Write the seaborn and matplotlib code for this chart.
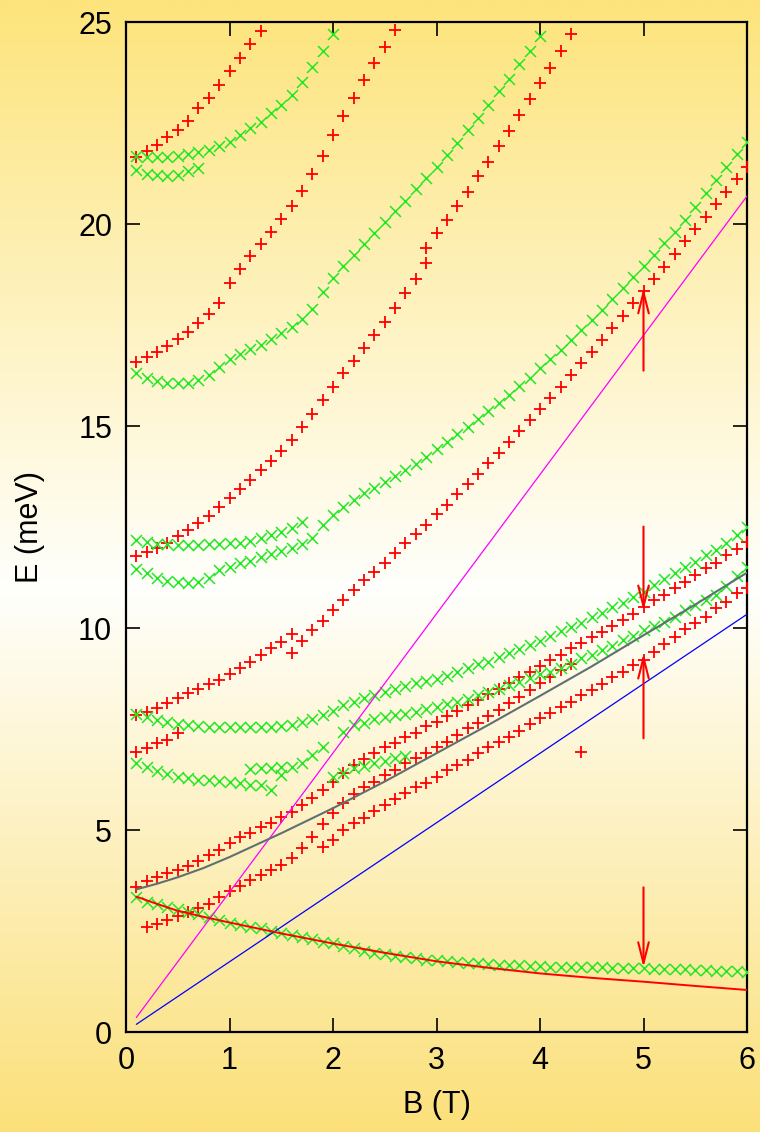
import numpy as np
import pandas as pd
import seaborn as sns
import matplotlib.pyplot as plt
from matplotlib.colors import LinearSegmentedColormap

# ---- data: measured levels, one list per branch, B grid step 0.1 T ----
# red "+" branches (start B, E values in meV)
red_a = (0.1, [21.67, 21.80, 21.96, 22.15, 22.33, 22.56, 22.86, 23.13, 23.44, 23.79,
               24.10, 24.45, 24.78])
red_b = (0.1, [16.59, 16.70, 16.84, 16.98, 17.15, 17.33, 17.54, 17.77, 18.04, 18.55,
               18.88, 19.21, 19.50, 19.79, 20.12, 20.45, 20.82, 21.24, 21.69, 22.20,
               22.67, 23.13, 23.56, 23.98, 24.37, 24.80])
red_c = (0.1, [11.78, 11.87, 11.99, 12.11, 12.27, 12.43, 12.61, 12.78, 13.00, 13.23,
               13.43, 13.66, 13.90, 14.13, 14.39, 14.65, 14.98, 15.30, 15.64, 15.97,
               16.30, 16.62, 16.92, 17.25, 17.58, 17.93, 18.28, 18.64, 19.03, 19.77,
               20.10, 20.45, 20.80, 21.19, 21.54, 21.93, 22.30, 22.70, 23.09, 23.48,
               23.87, 24.27, 24.70])
red_d = (0.1, [7.85, 7.93, 8.01, 8.15, 8.26, 8.38, 8.48, 8.61, 8.71, 8.86,
               9.00, 9.17, 9.33, 9.50, 9.66, 9.84, 9.69, 9.95, 10.18, 10.45,
               10.69, 10.94, 11.19, 11.39, 11.62, 11.86, 12.10, 12.33, 12.56, 12.82,
               13.04, 13.31, 13.56, 13.81, 14.08, 14.34, 14.61, 14.88, 15.15, 15.42,
               15.70, 15.97, 16.26, 16.55, 16.84, 17.13, 17.42, 17.72, 18.04, 18.33,
               18.64, 18.94, 19.26, 19.58, 19.87, 20.18, 20.50, 20.80, 21.11, 21.42])
red_e = (0.1, [6.94, 7.02, 7.15, 7.24, 7.39])
red_f = (0.1, [3.60, 3.74, 3.83, 3.93, 4.01, 4.11, 4.24, 4.37, 4.50, 4.67,
               4.82, 4.93, 5.08, 5.18, 5.33, 5.45, 5.61, 5.78, 5.99, 6.20,
               6.40, 6.61, 6.75, 6.90, 7.05, 7.16, 7.29, 7.41, 7.57, 7.68,
               7.82, 7.95, 8.09, 8.23, 8.36, 8.48, 8.65, 8.78, 8.92, 9.06,
               9.21, 9.33, 9.50, 9.62, 9.77, 9.91, 10.05, 10.21, 10.35, 10.51,
               10.69, 10.82, 10.98, 11.15, 11.31, 11.48, 11.62, 11.81, 11.95, 12.14])
red_g = (0.2, [2.61, 2.67, 2.77, 2.87, 2.98, 3.08, 3.18, 3.33, 3.48,
               3.62, 3.76, 3.89, 4.01, 4.14, 4.30, 4.55, 4.83, 5.14, 5.41,
               5.66, 5.89, 6.06, 6.20, 6.36, 6.48, 6.65, 6.77, 6.90, 7.06,
               7.19, 7.35, 7.52, 7.64, 7.81, 7.97, 8.14, 8.28, 8.47, 8.63,
               8.78, 8.95, 9.10])
red_h = (1.9, [4.59, 4.75,
               5.00, 5.18, 5.29, 5.48, 5.62, 5.76, 5.92, 6.06, 6.17, 6.32,
               6.49, 6.61, 6.73, 6.90, 7.06, 7.19, 7.31, 7.46, 7.62, 7.76,
               7.90, 8.04, 8.18, 8.34, 8.47, 8.61, 8.78, 8.92, 9.08, 9.22,
               9.41, 9.60, 9.77, 9.97, 10.12, 10.28, 10.49, 10.65, 10.86, 10.98])
red_extra_B = [2.9, 1.6, 4.4]
red_extra_E = [19.40, 9.37, 6.94]

# green "x" branches
grn_a = (0.1, [21.68, 21.67, 21.67, 21.67, 21.68, 21.73, 21.77, 21.83, 21.93, 22.04,
               22.20, 22.37, 22.53, 22.74, 22.95, 23.19, 23.52, 23.89, 24.28, 24.70])
grn_b = (0.1, [21.34, 21.25, 21.21, 21.19, 21.21, 21.30, 21.39])
grn_c = (0.1, [16.30, 16.20, 16.12, 16.07, 16.07, 16.07, 16.14, 16.26, 16.47, 16.65,
               16.78, 16.90, 17.00, 17.15, 17.29, 17.44, 17.64, 17.89, 18.32, 18.66,
               18.96, 19.23, 19.50, 19.77, 20.06, 20.31, 20.58, 20.86, 21.13, 21.42,
               21.72, 22.01, 22.33, 22.63, 22.95, 23.28, 23.60, 23.95, 24.29, 24.65])
grn_d = (0.1, [12.19, 12.14, 12.08, 12.08, 12.05, 12.05, 12.05, 12.08, 12.08, 12.10,
               12.11, 12.16, 12.22, 12.30, 12.38, 12.47, 12.62])
grn_e = (0.1, [11.45, 11.35, 11.25, 11.17, 11.15, 11.12, 11.15, 11.23, 11.44, 11.52,
               11.60, 11.67, 11.75, 11.83, 11.91, 11.99, 12.08, 12.23, 12.55, 12.80,
               13.00, 13.17, 13.33, 13.47, 13.62, 13.76, 13.91, 14.06, 14.24, 14.42,
               14.61, 14.80, 14.98, 15.17, 15.36, 15.56, 15.77, 15.99, 16.20, 16.43,
               16.65, 16.88, 17.13, 17.38, 17.62, 17.87, 18.14, 18.41, 18.68, 18.96,
               19.23, 19.52, 19.81, 20.10, 20.43, 20.76, 21.09, 21.42, 21.73, 22.04])
grn_f = (0.1, [7.87, 7.79, 7.72, 7.68, 7.62, 7.60, 7.57, 7.56, 7.56, 7.56,
               7.56, 7.56, 7.56, 7.56, 7.57, 7.60, 7.68, 7.74, 7.85, 7.95,
               8.09, 8.18, 8.26, 8.34, 8.42, 8.48, 8.56, 8.63, 8.69, 8.74,
               8.82, 8.92, 9.00, 9.11, 9.17, 9.27, 9.37, 9.47, 9.58, 9.69,
               9.81, 9.93, 10.03, 10.13, 10.26, 10.38, 10.51, 10.63, 10.76, 10.90,
               11.07, 11.21, 11.35, 11.50, 11.64, 11.81, 11.93, 12.10, 12.30, 12.51])
grn_g = (0.1, [6.65, 6.55, 6.47, 6.39, 6.32, 6.28, 6.25, 6.24, 6.22, 6.20,
               6.16, 6.11, 6.11, 5.99])
grn_h = (1.2, [6.50, 6.53, 6.53, 6.55, 6.55, 6.65, 6.86, 7.05])
grn_i = (2.1, [7.43, 7.60, 7.66, 7.74, 7.79, 7.84, 7.87, 7.93, 7.99, 8.05,
               8.11, 8.18, 8.25, 8.33, 8.41, 8.50, 8.58, 8.67, 8.76, 8.85,
               8.92, 9.00, 9.11, 9.25, 9.33, 9.46, 9.55, 9.70, 9.79, 9.95,
               10.05, 10.16, 10.28, 10.45, 10.57, 10.69, 10.82, 11.05, 11.28, 11.52])
grn_j = (2.0, [6.32, 6.40, 6.53, 6.58, 6.65, 6.72, 6.77, 6.84])
grn_k = (0.1, [3.33, 3.23, 3.17, 3.10, 3.04, 2.98, 2.92, 2.85, 2.77, 2.71,
               2.66, 2.61, 2.57, 2.51, 2.46, 2.40, 2.36, 2.30, 2.24, 2.20,
               2.13, 2.07, 2.01, 1.96, 1.93, 1.88, 1.85, 1.82, 1.78, 1.77,
               1.75, 1.73, 1.71, 1.70, 1.68, 1.67, 1.66, 1.65, 1.64, 1.63,
               1.62, 1.62, 1.61, 1.61, 1.60, 1.60, 1.59, 1.59, 1.58, 1.58,
               1.57, 1.56, 1.56, 1.55, 1.54, 1.53, 1.52, 1.51, 1.50, 1.49])
grn_extra_B = [1.5]
grn_extra_E = [6.36]

# model curves
line_B = [0.1, 6.0]
magenta_E = [0.36, 20.69]
blue_E = [0.19, 10.34]
curve_B = [0.1, 0.3, 0.5, 0.75, 1.0, 1.5, 2.0, 2.5, 3.0, 3.5, 4.0, 4.5, 5.0, 5.5, 6.0]
gray_E = [3.53, 3.67, 3.83, 4.06, 4.33, 4.92, 5.54, 6.20, 6.90, 7.60, 8.32, 9.05,
          9.82, 10.58, 11.37]
redline_E = [3.35, 3.17, 3.00, 2.85, 2.71, 2.44, 2.19, 1.96, 1.75, 1.59, 1.45, 1.34,
             1.245, 1.14, 1.04]

# arrows at B = 5 T (tail, head)
arrow_B = 5.0
arrow_tail = [16.37, 12.51, 7.27, 3.58]
arrow_head = [18.41, 10.43, 9.37, 1.60]

RED = "#ff0000"
GREEN = "#22e822"


def branches_to_frame(branches, extra_B, extra_E):
    parts = []
    for start, vals in branches:
        b = np.round(start + 0.1 * np.arange(len(vals)), 2)
        parts.append(pd.DataFrame({"B": b, "E": vals}))
    parts.append(pd.DataFrame({"B": extra_B, "E": extra_E}))
    return pd.concat(parts, ignore_index=True)


red_df = branches_to_frame([red_a, red_b, red_c, red_d, red_e, red_f, red_g, red_h],
                           red_extra_B, red_extra_E)
grn_df = branches_to_frame([grn_a, grn_b, grn_c, grn_d, grn_e, grn_f, grn_g, grn_h,
                            grn_i, grn_j, grn_k], grn_extra_B, grn_extra_E)

sns.set_style("ticks")
plt.rcParams["font.family"] = ["Liberation Sans Narrow", "Liberation Sans", "DejaVu Sans"]

fig = plt.figure(figsize=(7.6, 11.32), dpi=100)

# yellow - white - yellow page background
bg = fig.add_axes([0, 0, 1, 1], zorder=-10)
cmap = LinearSegmentedColormap.from_list(
    "page", [(0.0, "#fbe07a"), (0.48, "#fffffc"), (1.0, "#fde47c")])
bg.imshow(np.linspace(0, 1, 512).reshape(-1, 1), aspect="auto", cmap=cmap,
          extent=[0, 1, 0, 1], origin="lower")
bg.axis("off")

ax = fig.add_axes([126 / 760, 1 - 1032 / 1132, 621 / 760, 1010 / 1132])
ax.set_facecolor("none")

sns.scatterplot(data=red_df, x="B", y="E", marker="+", color=RED, edgecolor=RED,
                s=72, linewidth=1.3, ax=ax, zorder=3, legend=False)
sns.scatterplot(data=grn_df, x="B", y="E", marker="x", color=GREEN, edgecolor=GREEN,
                s=62, linewidth=1.1, ax=ax, zorder=3, legend=False)

ax.plot(line_B, magenta_E, color="#ff00ff", lw=0.9, zorder=4)
ax.plot(line_B, blue_E, color="#0000ff", lw=0.9, zorder=4)
ax.plot(curve_B, gray_E, color="#5f7070", lw=1.5, zorder=4)
ax.plot(curve_B, redline_E, color=RED, lw=1.4, zorder=4)

for t, h in zip(arrow_tail, arrow_head):
    ax.annotate("", xy=(arrow_B, h), xytext=(arrow_B, t),
                arrowprops=dict(arrowstyle="->,head_length=1.5,head_width=0.38",
                                color=RED, lw=1.5, shrinkA=0, shrinkB=0),
                zorder=5)

ax.set_xlim(0, 6)
ax.set_ylim(0, 25)
ax.set_xticks(range(0, 7))
ax.set_yticks(range(0, 26, 5))
ax.tick_params(direction="in", length=10, width=1.2, top=True, right=True,
               labelsize=22, pad=10, colors="black")
for sp in ax.spines.values():
    sp.set_visible(True)
    sp.set_linewidth(1.6)
    sp.set_color("black")

ax.set_xlabel("B (T)", fontsize=22, labelpad=10, color="black")
ax.set_ylabel("E (meV)", fontsize=22, labelpad=24, color="black")

fig.savefig("out.png", dpi=100)
